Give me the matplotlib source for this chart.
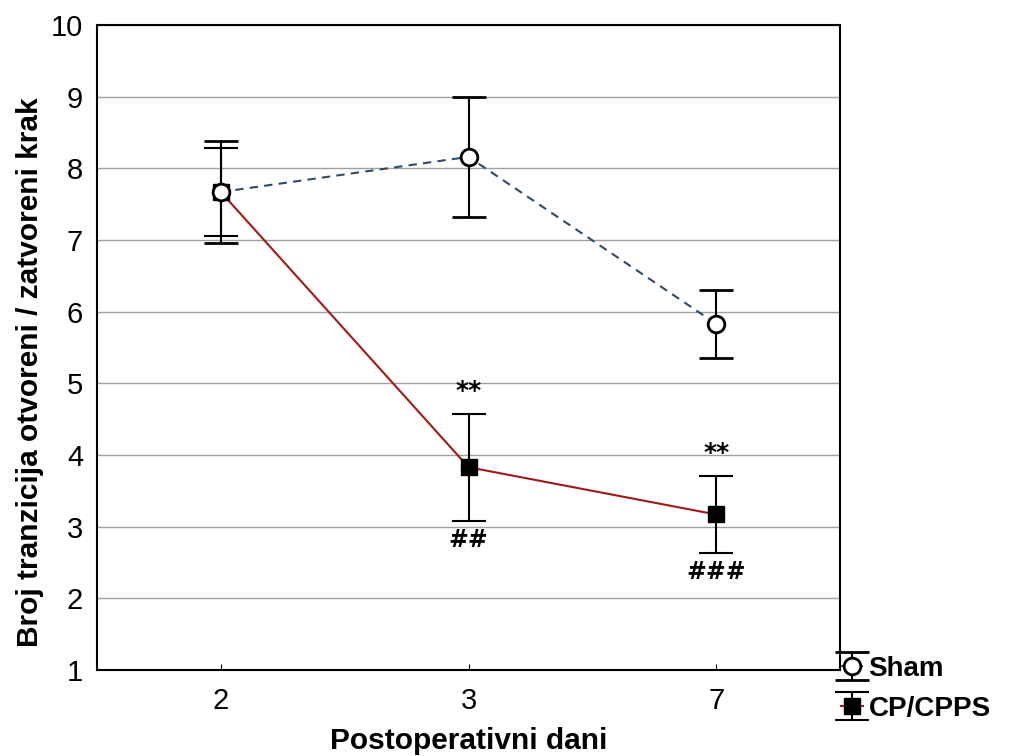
import matplotlib
matplotlib.use("Agg")
import matplotlib.pyplot as plt
import numpy as np

plt.rcParams['font.family'] = ['Liberation Sans', 'DejaVu Sans']

days = ["2", "3", "7"]
sham_mean = [7.67, 8.16, 5.83]
sham_err = [0.71, 0.84, 0.475]
cp_mean = [7.67, 3.83, 3.17]
cp_err = [0.62, 0.745, 0.54]
star_labels = ["", "**", "**"]
hash_labels = ["", "##", "###"]
y_ticks = [1, 2, 3, 4, 5, 6, 7, 8, 9, 10]

fig = plt.figure(figsize=(10.14, 7.56), dpi=100)
ax = fig.add_axes([97 / 1014, 86 / 756, 743 / 1014, 645 / 756])

x = np.arange(len(days))

ax.set_axisbelow(True)
ax.yaxis.grid(True, color='#a0a0a0', linewidth=1.0)

cp = ax.errorbar(x, cp_mean, yerr=cp_err, color='#a01818', linewidth=1.5,
                 marker='s', markersize=12, markerfacecolor='black',
                 markeredgecolor='black', ecolor='black', elinewidth=1.5,
                 capsize=12, capthick=1.5, label='CP/CPPS', zorder=3)
sham = ax.errorbar(x, sham_mean, yerr=sham_err, color='#2e4a66', linewidth=1.5,
                   linestyle=(0, (4, 3)), marker='o', markersize=12,
                   markerfacecolor='white', markeredgecolor='black',
                   markeredgewidth=2, ecolor='black', elinewidth=1.5,
                   capsize=12, capthick=1.5, label='Sham', zorder=4)

for xi, m, e, s, h in zip(x, cp_mean, cp_err, star_labels, hash_labels):
    if s:
        ax.text(xi, m + e + 0.15, s, ha='center', va='bottom', fontsize=18,
                fontweight='bold', family='DejaVu Sans')
    if h:
        ax.text(xi, m - e - 0.1, h, ha='center', va='top', fontsize=17,
                family='DejaVu Serif', fontweight='bold')

ax.set_xlim(-0.5, 2.5)
ax.set_ylim(1, 10)
ax.set_xticks(x)
ax.set_xticklabels(days)
ax.set_yticks(y_ticks)
ax.tick_params(axis='both', direction='in', length=4, labelsize=21)
ax.tick_params(axis='x', pad=12)
ax.tick_params(axis='y', length=0, pad=10)
for sp in ax.spines.values():
    sp.set_linewidth(1.5)

ax.set_xlabel("Postoperativni dani", fontsize=21.5, fontweight='bold', labelpad=9)
ax.set_ylabel("Broj tranzicija otvoreni / zatvoreni krak", fontsize=21.5,
              fontweight='bold')
ax.yaxis.set_label_coords(-0.071, 0.462)

fig.legend(handles=[sham, cp], labels=['Sham', 'CP/CPPS'],
           loc='upper left', bbox_to_anchor=(838 / 1014, 1 - 653 / 756),
           frameon=False, prop={'weight': 'bold', 'size': 20},
           handlelength=0.8, handletextpad=0.2, labelspacing=0.5,
           borderpad=0.1, borderaxespad=0)

fig.savefig("out.png", dpi=100)
